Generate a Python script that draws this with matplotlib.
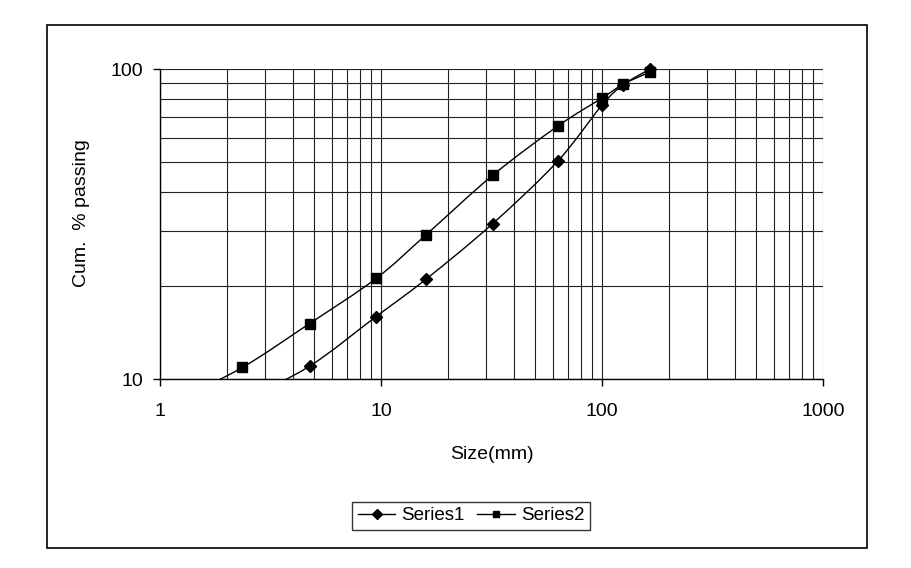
import numpy as np
import matplotlib
matplotlib.use("Agg")
from matplotlib import pyplot as plt
from matplotlib.path import Path
from matplotlib.patches import PathPatch, Rectangle
from matplotlib.lines import Line2D
from matplotlib.ticker import NullFormatter

plt.rcParams['font.family'] = ['Liberation Sans', 'DejaVu Sans']

# sieve sizes (mm) and cumulative % passing
# first point of each series sits below the visible 10% line
size1 = [2.36, 4.75, 9.5, 16, 32, 63, 100, 125, 165]
pass1 = [8.5, 11, 15.9, 21, 31.7, 50.4, 76.5, 89, 100]
size2 = [1.18, 2.36, 4.75, 9.5, 16, 32, 63, 100, 125, 165]
pass2 = [8.5, 10.9, 15.1, 21.1, 29.2, 45.4, 65.4, 80.6, 89.4, 97.8]

names = ["Series1", "Series2"]
markers = ["D", "s"]


def smooth_path(xs, ys):
    # excel-like smoothed line: catmull-rom bezier in log-log space
    lx = np.log10(xs)
    ly = np.log10(ys)
    n = len(lx)
    verts = [(xs[0], ys[0])]
    codes = [Path.MOVETO]
    for i in range(n - 1):
        i0 = max(i - 1, 0)
        i3 = min(i + 2, n - 1)
        c1x = lx[i] + (lx[i + 1] - lx[i0]) / 6
        c1y = ly[i] + (ly[i + 1] - ly[i0]) / 6
        c2x = lx[i + 1] - (lx[i3] - lx[i]) / 6
        c2y = ly[i + 1] - (ly[i3] - ly[i]) / 6
        verts += [(10**c1x, 10**c1y), (10**c2x, 10**c2y), (xs[i + 1], ys[i + 1])]
        codes += [Path.CURVE4] * 3
    return Path(verts, codes)


fig = plt.figure(figsize=(9.11, 5.68), dpi=100)
ax = fig.add_axes([0.1756, 0.3327, 0.7278, 0.5458])
ax.set_xscale('log')
ax.set_yscale('log')
ax.set_xlim(1, 1000)
ax.set_ylim(10, 100)

for xs, ys, m in zip([size1, size2], [pass1, pass2], markers):
    patch = PathPatch(smooth_path(xs, ys), facecolor='none', edgecolor='black', lw=1.0, zorder=3)
    ax.add_patch(patch)
    # markers only where they fall inside the chart
    vis = [(x, y) for x, y in zip(xs, ys) if y >= 10]
    ax.plot([v[0] for v in vis], [v[1] for v in vis], linestyle='none', marker=m,
            color='black', markersize=6 if m == "D" else 6.5, zorder=4, clip_on=False)

ax.grid(True, which='both', color='#222222', lw=0.8)
ax.set_axisbelow(True)
for s in ['top', 'right']:
    ax.spines[s].set_visible(False)
for s in ['left', 'bottom']:
    ax.spines[s].set_linewidth(1.0)

ax.set_xticks([1, 10, 100, 1000])
ax.set_xticklabels(["1", "10", "100", "1000"])
ax.set_yticks([10, 100])
ax.set_yticklabels(["10", "100"])
ax.minorticks_on()
ax.xaxis.set_minor_formatter(NullFormatter())
ax.yaxis.set_minor_formatter(NullFormatter())
ax.tick_params(which='minor', length=0)
ax.tick_params(which='major', direction='out', length=5, width=1, labelsize=14)
ax.tick_params(axis='x', pad=12)
ax.tick_params(axis='y', pad=7)

ax.set_xlabel("Size(mm)", fontsize=14, labelpad=19)
ax.set_ylabel("Cum.  % passing", fontsize=14, labelpad=9)
ax.yaxis.set_label_coords(-0.105, 0.535)

handles = [Line2D([], [], color='black', lw=1, marker=m, markersize=5) for m in markers]
leg = fig.legend(handles, names, loc='center', bbox_to_anchor=(0.517, 0.092), ncol=2,
                 fontsize=13.5, frameon=True, fancybox=False, edgecolor='black',
                 handlelength=2.0, handletextpad=0.3, columnspacing=0.7, borderpad=0.3)
leg.get_frame().set_linewidth(1.0)

fig.patches.append(Rectangle((0.0516, 0.035), 0.900, 0.921, transform=fig.transFigure,
                             fill=False, edgecolor='black', lw=1.2))

fig.savefig("out.png", dpi=100)
